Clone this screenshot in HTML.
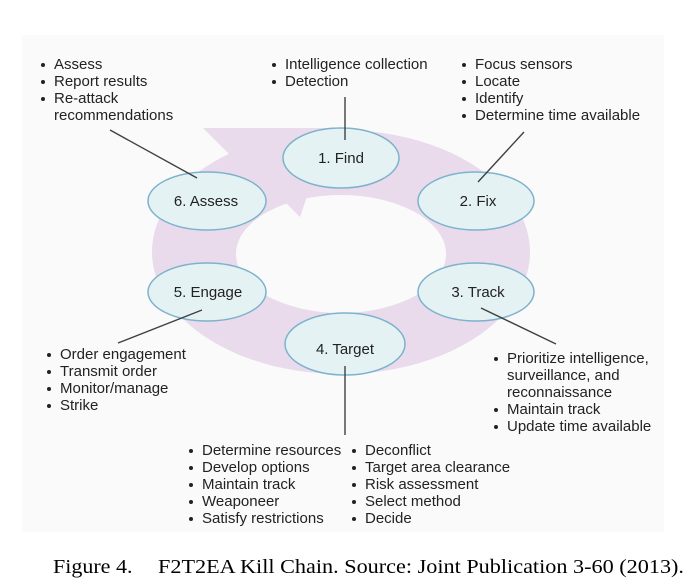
<!DOCTYPE html>
<html><head><meta charset="utf-8"><style>
html,body{margin:0;padding:0;background:#fff;}
body{width:692px;height:588px;position:relative;overflow:hidden;font-family:"Liberation Sans",Arial,sans-serif;}
.t{position:absolute;font-size:15px;line-height:17px;color:#222;letter-spacing:0;white-space:nowrap;}
.t div{position:relative;padding-left:13px;}
.t div.b:before{content:"";position:absolute;left:0;top:7px;width:4px;height:4px;border-radius:50%;background:#222;}
.cap{position:absolute;top:556px;font-family:"Liberation Serif","Times New Roman",serif;font-size:20px;color:#000;white-space:nowrap;transform-origin:0 0;}
</style></head><body>
<div style="position:absolute;left:22px;top:35px;width:642px;height:497px;background:#fafafa;"></div>
<svg style="position:absolute;left:0;top:0" width="692" height="588">
<path fill-rule="evenodd" fill="#e9dbec" d="M152,252 a189,122 0 1,0 378,0 a189,122 0 1,0 -378,0 Z M236,254 a105,59 0 1,0 210,0 a105,59 0 1,0 -210,0 Z"/>
<polygon fill="#e9dbec" points="203,128 330,128 300,217 278,195 227,152"/>
<g fill="#e5f2f4" stroke="#7db2cc" stroke-width="1.5">
<ellipse cx="341" cy="158" rx="58" ry="30"/>
<ellipse cx="207" cy="201" rx="59" ry="29"/>
<ellipse cx="476" cy="201" rx="58" ry="29"/>
<ellipse cx="476" cy="292" rx="58" ry="29"/>
<ellipse cx="207" cy="292" rx="59" ry="29"/>
<ellipse cx="345" cy="344" rx="60" ry="31"/>
</g>
<g stroke="#404040" stroke-width="1.4">
<line x1="345" y1="97" x2="345" y2="140"/>
<line x1="110" y1="130" x2="197" y2="178"/>
<line x1="524" y1="132" x2="478" y2="182"/>
<line x1="202" y1="310" x2="118" y2="343"/>
<line x1="481" y1="308" x2="556" y2="344"/>
<line x1="345" y1="366" x2="345" y2="435"/>
</g>
<g font-family="Liberation Sans,Arial,sans-serif" font-size="15" fill="#222" text-anchor="middle">
<text x="341" y="163">1. Find</text>
<text x="206" y="206">6. Assess</text>
<text x="478" y="206">2. Fix</text>
<text x="478" y="297">3. Track</text>
<text x="208" y="297">5. Engage</text>
<text x="345" y="354">4. Target</text>
</g>
</svg>
<div class="t" style="left:41px;top:56px"><div class="b">Assess</div><div class="b">Report results</div><div class="b">Re-attack</div><div>recommendations</div></div>
<div class="t" style="left:272px;top:56px"><div class="b">Intelligence collection</div><div class="b">Detection</div></div>
<div class="t" style="left:462px;top:56px"><div class="b">Focus sensors</div><div class="b">Locate</div><div class="b">Identify</div><div class="b">Determine time available</div></div>
<div class="t" style="left:47px;top:346px"><div class="b">Order engagement</div><div class="b">Transmit order</div><div class="b">Monitor/manage</div><div class="b">Strike</div></div>
<div class="t" style="left:494px;top:350px"><div class="b">Prioritize intelligence,</div><div>surveillance, and</div><div>reconnaissance</div><div class="b">Maintain track</div><div class="b">Update time available</div></div>
<div class="t" style="left:189px;top:442px"><div class="b">Determine resources</div><div class="b">Develop options</div><div class="b">Maintain track</div><div class="b">Weaponeer</div><div class="b">Satisfy restrictions</div></div>
<div class="t" style="left:352px;top:442px"><div class="b">Deconflict</div><div class="b">Target area clearance</div><div class="b">Risk assessment</div><div class="b">Select method</div><div class="b">Decide</div></div>
<div class="cap" style="left:53px;transform:scaleX(1.1)">Figure 4.</div>
<div class="cap" style="left:158px;transform:scaleX(1.11)">F2T2EA Kill Chain. Source: Joint Publication 3-60 (2013).</div>
</body></html>
